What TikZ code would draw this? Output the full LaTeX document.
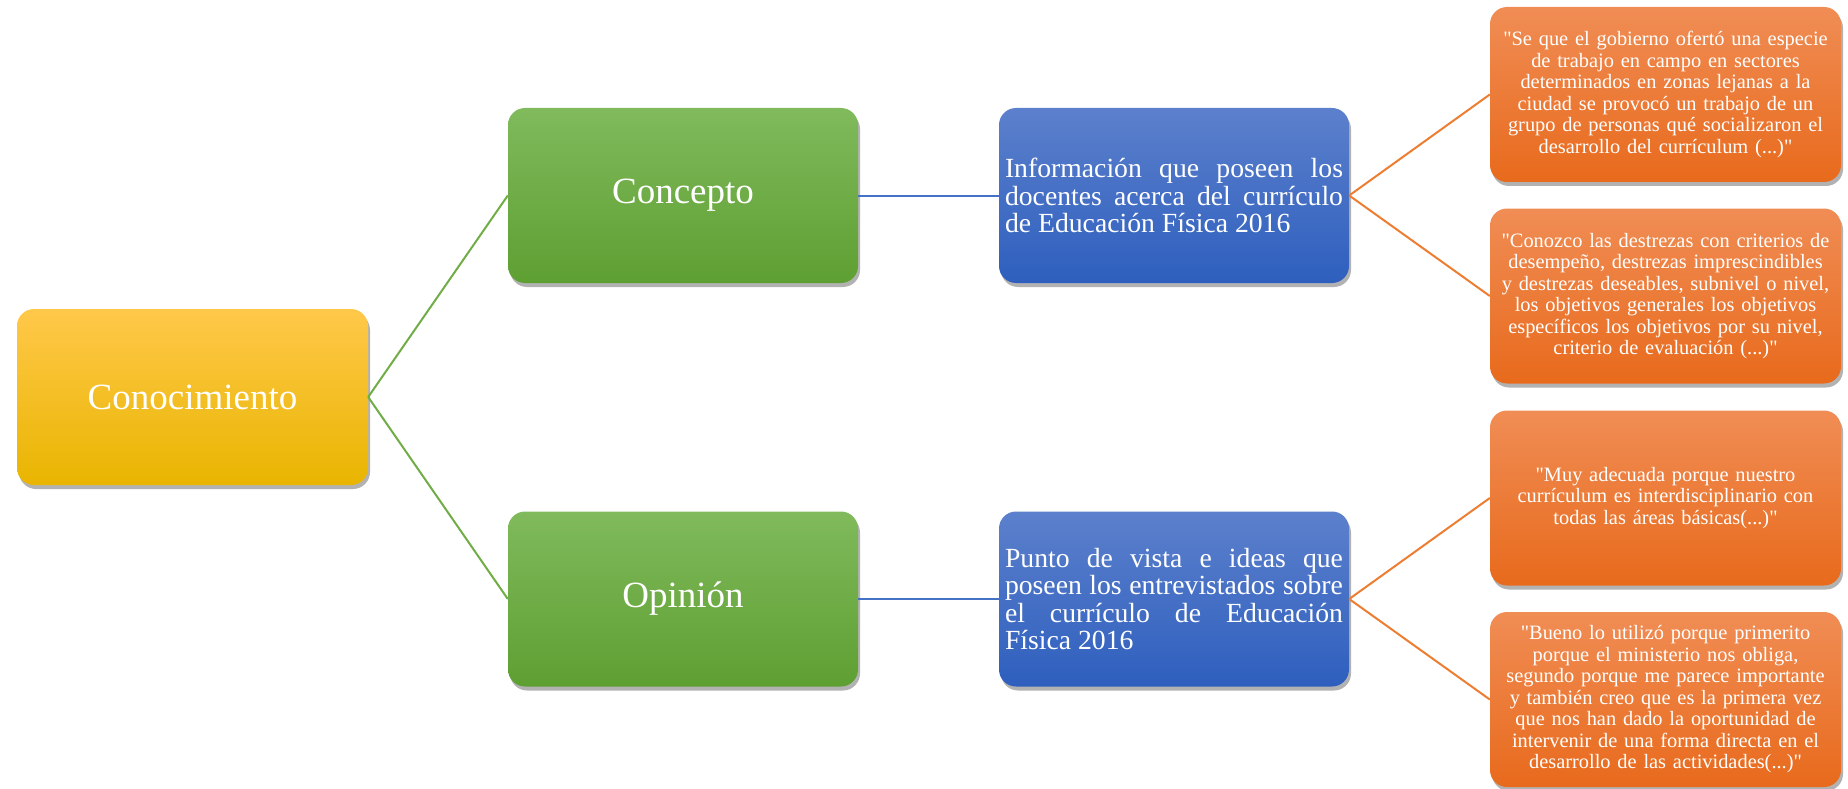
\documentclass[tikz,border=0pt]{standalone}
\usepackage{fontspec}
\setmainfont{Liberation Serif}[Ligatures=TeXOff]
\usetikzlibrary{shadows}
\hyphenpenalty=10000
\exhyphenpenalty=10000
\definecolor{gTop}{HTML}{80BA5C}
\definecolor{gBot}{HTML}{5E9F32}
\definecolor{bTop}{HTML}{5C80CC}
\definecolor{bBot}{HTML}{2E5FBE}
\definecolor{oTop}{HTML}{F08D55}
\definecolor{oBot}{HTML}{E86A1C}
\definecolor{yTop}{HTML}{FFC84A}
\definecolor{yMid}{HTML}{FFC600}
\definecolor{yBot}{HTML}{E9B500}
\definecolor{lGreen}{HTML}{70AD47}
\definecolor{lBlue}{HTML}{4472C4}
\definecolor{lOrange}{HTML}{ED7D31}
\tikzset{
  basebox/.style={rounded corners=17pt, inner sep=0pt, minimum width=350pt, minimum height=175pt,
    text=white, drop shadow={shadow xshift=2pt, shadow yshift=-4pt, fill=black, opacity=0.3}},
  yellowbox/.style={basebox, top color=yTop, middle color=yMid, bottom color=yBot, minimum width=351pt, minimum height=176pt,
    font=\fontsize{37}{44}\selectfont},
  greenbox/.style={basebox, top color=gTop, bottom color=gBot, font=\fontsize{37}{44}\selectfont},
  bluebox/.style={basebox, top color=bTop, bottom color=bBot, text width=338pt, align=justify,
    font=\fontsize{27.7}{27.3}\selectfont},
  orangebox/.style={basebox, top color=oTop, bottom color=oBot, minimum width=351pt, text width=345pt, align=center,
    font=\fontsize{20.4}{21.5}\selectfont},
  gline/.style={draw=lGreen, line width=2pt},
  bline/.style={draw=lBlue, line width=2pt},
  oline/.style={draw=lOrange, line width=2pt}
}
\begin{document}
\begin{tikzpicture}[x=1pt,y=-1pt]
\useasboundingbox (0,0) rectangle (1848,789);
\node[yellowbox] (con) at (192.5,397) {Conocimiento};
\node[greenbox] (concepto) at (683,195.5) {Concepto};
\node[greenbox] (opinion) at (683,599) {Opinión};
\node[bluebox] (info) at (1174,195.5) {Información que poseen los\linebreak docentes acerca del currículo\linebreak de Educación Física 2016};
\node[bluebox] (punto) at (1174,599) {Punto de vista e ideas que\linebreak poseen los entrevistados sobre\linebreak el currículo de Educación\linebreak Física 2016};
\node[orangebox] (q1) at (1665.5,94.5) {"Se que el gobierno ofertó una especie\\ de trabajo en campo en sectores\\ determinados en zonas lejanas a la\\ ciudad se provocó un trabajo de un\\ grupo de personas qué socializaron el\\ desarrollo del currículum (...)"};
\node[orangebox] (q2) at (1665.5,296) {"Conozco las destrezas con criterios de\\ desempeño, destrezas imprescindibles\\ y destrezas deseables, subnivel o nivel,\\ los objetivos generales los objetivos\\ específicos los objetivos por su nivel,\\ criterio de evaluación (...)"};
\node[orangebox] (q3) at (1665.5,498) {"Muy adecuada porque nuestro\\ currículum es interdisciplinario con\\ todas las áreas básicas(...)"};
\node[orangebox] (q4) at (1665.5,699.5) {"Bueno lo utilizó porque primerito\\ porque el ministerio nos obliga,\\ segundo porque me parece importante\\ y también creo que es la primera vez\\ que nos han dado la oportunidad de\\ intervenir de una forma directa en el\\ desarrollo de las actividades(...)"};
\draw[gline] (con.east) -- (concepto.west);
\draw[gline] (con.east) -- (opinion.west);
\draw[bline] (concepto.east) -- (info.west);
\draw[bline] (opinion.east) -- (punto.west);
\draw[oline] (info.east) -- (q1.west);
\draw[oline] (info.east) -- (q2.west);
\draw[oline] (punto.east) -- (q3.west);
\draw[oline] (punto.east) -- (q4.west);
\end{tikzpicture}
\end{document}
